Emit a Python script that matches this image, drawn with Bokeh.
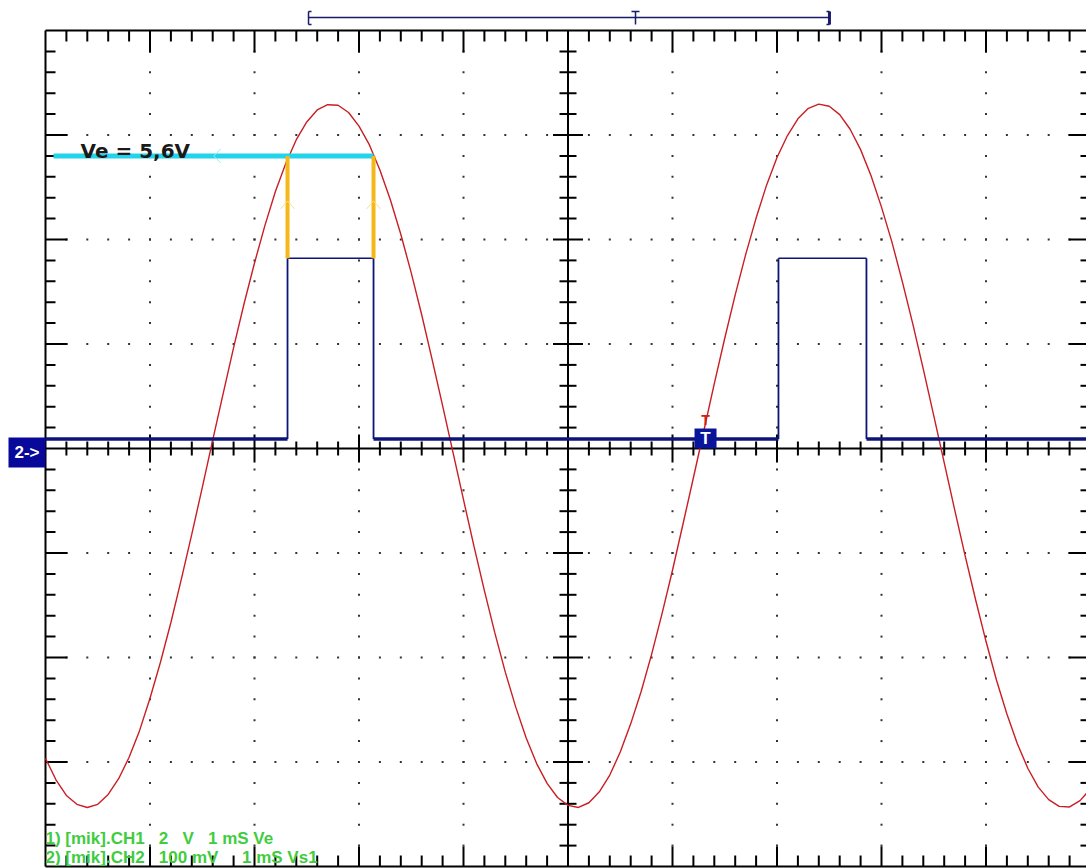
from bokeh.plotting import figure
from bokeh.models import Range1d
from bokeh.core.properties import value
from bokeh.embed import file_html
from bokeh.resources import INLINE

ch1_time_ms = [0.0, 0.1, 0.2, 0.3, 0.4, 0.5, 0.6, 0.7, 0.8, 0.9,
               1.0, 1.1, 1.2, 1.3, 1.4, 1.5, 1.6, 1.7, 1.8, 1.9,
               2.0, 2.1, 2.2, 2.3, 2.4, 2.5, 2.6, 2.7, 2.8, 2.9,
               3.0, 3.1, 3.2, 3.3, 3.4, 3.5, 3.6, 3.7, 3.8, 3.9,
               4.0, 4.1, 4.2, 4.3, 4.4, 4.5, 4.6, 4.7, 4.8, 4.9,
               5.0, 5.1, 5.2, 5.3, 5.4, 5.5, 5.6, 5.7, 5.8, 5.9,
               6.0, 6.1, 6.2, 6.3, 6.4, 6.5, 6.6, 6.7, 6.8, 6.9,
               7.0, 7.1, 7.2, 7.3, 7.4, 7.5, 7.6, 7.7, 7.8, 7.9,
               8.0, 8.1, 8.2, 8.3, 8.4, 8.5, 8.6, 8.7, 8.8, 8.9,
               9.0, 9.1, 9.2, 9.3, 9.4, 9.5, 9.6, 9.7, 9.8, 9.9, 10.0]
ch1_volts = [-5.93, -6.34, -6.64, -6.81, -6.87, -6.81, -6.62, -6.32, -5.91, -5.40,
             -4.78, -4.09, -3.33, -2.50, -1.64, -0.75, 0.16, 1.05, 1.93, 2.77,
             3.55, 4.27, 4.92, 5.46, 5.91, 6.25, 6.48, 6.58, 6.57, 6.43,
             6.17, 5.81, 5.33, 4.76, 4.10, 3.36, 2.56, 1.70, 0.82, -0.08,
             -0.98, -1.87, -2.72, -3.53, -4.28, -4.95, -5.54, -6.03, -6.41, -6.68,
             -6.83, -6.87, -6.78, -6.57, -6.25, -5.81, -5.27, -4.65, -3.94, -3.16,
             -2.33, -1.45, -0.56, 0.34, 1.24, 2.11, 2.94, 3.71, 4.41, 5.04,
             5.57, 5.99, 6.31, 6.51, 6.59, 6.55, 6.39, 6.11, 5.72, 5.22,
             4.62, 3.95, 3.19, 2.38, 1.52, 0.63, -0.27, -1.17, -2.05, -2.89,
             -3.69, -4.43, -5.08, -5.65, -6.12, -6.48, -6.72, -6.85, -6.86, -6.74, -6.51]

ch2_time_ms = [0.0, 2.316, 2.316, 3.139, 3.139, 7.014, 7.014, 7.856, 7.856, 10.0]
ch2_mv = [9, 9, 182, 182, 9, 9, 182, 182, 9, 9]

ve_threshold_v = 5.6
ve_line_start_ms = 0.077
pulse1_edges_ms = [2.316, 3.139]
ve_label = "Ve = 5,6V"
ch1_caption = "1) [mik].CH1   2   V   1 mS Ve"
ch2_caption = "2) [mik].CH2   100 mV     1 mS Vs1"
ch2_marker = "2->"
trigger_label = "T"
trigger_time_ms = 6.316
trigger_bracket_ms = [2.517, 5.646, 7.502]

# scope scale: 1 ms/div, CH1 2 V/div, CH2 100 mV/div; 10 x 8 divisions
V_PER_DIV = 2.0
MV_PER_DIV = 100.0
PX_PER_DIV = 104.5
W, H = 1086, 868
px_x = 1.0 / PX_PER_DIV            # ms per pixel
px_y = V_PER_DIV / PX_PER_DIV      # V per pixel

x0 = -45 * px_x
y_top = 448 * px_y
p = figure(width=W, height=H, output_backend="svg", toolbar_location=None,
           x_range=Range1d(x0, x0 + W * px_x),
           y_range=Range1d(y_top - H * px_y, y_top),
           min_border=0, outline_line_color=None,
           background_fill_color="white", border_fill_color="white")
p.xaxis.visible = False
p.yaxis.visible = False
p.grid.visible = False
ymin_ch2 = (y_top - H * px_y) / V_PER_DIV * MV_PER_DIV
ymax_ch2 = y_top / V_PER_DIV * MV_PER_DIV
p.extra_y_ranges = {"ch2": Range1d(ymin_ch2, ymax_ch2)}

XL, XR = 0.0, 10.0
YB, YT = -4 * V_PER_DIV, 4 * V_PER_DIV

# ---------------- graticule dots ----------------
dx, dy = [], []
for k in range(1, 10):
    if k == 5:
        continue
    for j in range(1, 40):
        dx.append(k)
        dy.append(YB + j * 0.2 * V_PER_DIV)
for k in range(-3, 4):
    if k == 0:
        continue
    for j in range(1, 50):
        dx.append(j * 0.2)
        dy.append(k * V_PER_DIV)
p.scatter(dx, dy, marker="square", size=2, fill_color="#333333", line_color=None)

# ---------------- borders, centre axes and ticks ----------------
sx0, sy0, sx1, sy1 = [], [], [], []
def seg(a, b, c, d):
    sx0.append(a); sy0.append(b); sx1.append(c); sy1.append(d)

for j in range(1, 50):
    x = j * 0.2
    major = (j % 5 == 0)
    if j == 25:
        continue
    seg(x, YT, x, YT - (22 if major else 11) * px_y)
    seg(x, YB, x, YB + (20 if major else 11) * px_y)
    h = (14 if major else 7) * px_y
    seg(x, -h, x, h)
for j in range(1, 40):
    y = YB + j * 0.2 * V_PER_DIV
    major = (j % 5 == 0)
    if j == 20:
        continue
    seg(XL, y, XL + (22 if major else 10) * px_x, y)
    seg(XR, y, XR - (22 if major else 10) * px_x, y)
    w = (15 if major else 8.5) * px_x
    seg(5 - w, y, 5 + w, y)
p.segment(sx0, sy0, sx1, sy1, line_color="black", line_width=2)

p.segment([XL, XL, XL, XR, XL, 5.0], [YT, YB, YB, YB, 0.0, YB],
          [XR, XR, XL, XR, XR, 5.0], [YT, YB, YT, YT, 0.0, YT],
          line_color="black", line_width=2)

# ---------------- CH1 trace ----------------
p.line(ch1_time_ms, ch1_volts, line_color="#c81e24", line_width=1.4)

# ---------------- CH2 trace ----------------
low = min(ch2_mv)
bx0, by0, bx1, by1, bw = [], [], [], [], []
for i in range(len(ch2_time_ms) - 1):
    bx0.append(ch2_time_ms[i]); by0.append(ch2_mv[i])
    bx1.append(ch2_time_ms[i + 1]); by1.append(ch2_mv[i + 1])
    if ch2_mv[i] == ch2_mv[i + 1]:
        bw.append(3.5 if ch2_mv[i] == low else 1.5)
    else:
        bw.append(1.8)
p.segment(x0=bx0, y0=by0, x1=bx1, y1=by1, line_width=bw,
          line_color="#0c1478", y_range_name="ch2")

# ---------------- Ve cursor ----------------
ch2_high_v = max(ch2_mv) / MV_PER_DIV * V_PER_DIV
p.segment([ve_line_start_ms], [ve_threshold_v], [pulse1_edges_ms[1]], [ve_threshold_v],
          line_color="#22d3ea", line_width=5)
p.segment(pulse1_edges_ms, [ve_threshold_v] * 2, pulse1_edges_ms, [ch2_high_v] * 2,
          line_color="#f5b71a", line_width=4)
ax = 1.61
p.multi_line([[ax + 7 * px_x, ax, ax + 7 * px_x]],
             [[ve_threshold_v + 7 * px_y, ve_threshold_v, ve_threshold_v - 7 * px_y]],
             line_color="#9aeaf5", line_width=1)
cy = ve_threshold_v - 45 * px_y
for ex in pulse1_edges_ms:
    p.multi_line([[ex - 7 * px_x, ex, ex + 7 * px_x]],
                 [[cy - 8 * px_y, cy, cy - 8 * px_y]],
                 line_color="#fbe08a", line_width=1)

p.text([0.335], [ve_threshold_v + 5 * px_y], text=[ve_label],
       text_font=value("DejaVu Sans"), text_font_style="bold",
       text_font_size="20px", text_color="#1a1a1a", text_baseline="alphabetic")

# ---------------- captions (non-breaking spaces keep the column gaps) ----------------
NB = "\u00a0"
p.text([0.0], [(448 - 838) * px_y], text=[ch1_caption.replace(" ", NB)],
       text_font=value("Liberation Sans"), text_font_style="bold",
       text_font_size="17px", text_color="#3fcc3f", text_baseline="alphabetic")
p.text([0.0], [(448 - 857) * px_y], text=[ch2_caption.replace(" ", NB)],
       text_font=value("Liberation Sans"), text_font_style="bold",
       text_font_size="17px", text_color="#3fcc3f", text_baseline="alphabetic")

# ---------------- CH2 ground marker ----------------
p.quad(left=[-37 * px_x], right=[0.0], top=[11 * px_y], bottom=[-19 * px_y],
       fill_color="#08089a", line_color=None)
p.text([-18.5 * px_x], [-4 * px_y], text=[ch2_marker], text_font=value("Liberation Sans"),
       text_font_style="bold", text_font_size="17px", text_color="white",
       text_align="center", text_baseline="middle")

# ---------------- trigger marker ----------------
p.quad(left=[trigger_time_ms - 11 * px_x], right=[trigger_time_ms + 11 * px_x],
       top=[20 * px_y], bottom=[0.0], fill_color="#0a149a", line_color=None)
p.text([trigger_time_ms], [10 * px_y], text=[trigger_label], text_font=value("Liberation Sans"),
       text_font_style="bold", text_font_size="17px", text_color="white",
       text_align="center", text_baseline="middle")
p.text([trigger_time_ms], [29 * px_y], text=[trigger_label], text_font=value("Liberation Sans"),
       text_font_style="bold", text_font_size="14px", text_color="#cc2020",
       text_align="center", text_baseline="middle")

# ---------------- trigger position bracket above the screen ----------------
by = (448 - 17) * px_y
bt = (448 - 11) * px_y
bb = (448 - 24) * px_y
L, M, R = trigger_bracket_ms
p.segment([L, L, L, L, M, M - 4 * px_x, R, R - 3 * px_x, R - 3 * px_x],
          [by, bt, bt, bb, bt, bt, bt, bt, bb],
          [R, L, L + 3 * px_x, L + 3 * px_x, M, M + 4 * px_x, R, R, R],
          [by, bb, bt, bb, bb, bt, bb, bt, bb],
          line_color="#1b1b6e", line_width=1.5)
p.segment([R], [bt], [R], [bb], line_color="#1b1b6e", line_width=3)

open("out.html", "w").write(file_html(p, INLINE))
